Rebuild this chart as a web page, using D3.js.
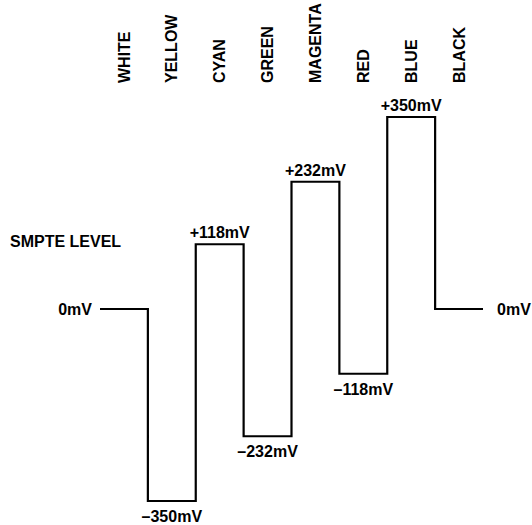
<!DOCTYPE html>
<html>
<head>
<meta charset="utf-8">
<script src="https://cdn.jsdelivr.net/npm/d3@7"></script>
<style>
  body { margin: 0; background: #fff; }
  text { font-family: "Liberation Sans", Arial, Helvetica, sans-serif; font-weight: bold; fill: #000; }
</style>
</head>
<body>
<div class="canva"></div>
<script>
const bars = ["WHITE", "YELLOW", "CYAN", "GREEN", "MAGENTA", "RED", "BLUE", "BLACK"];
const levels = [0, -350, 118, -232, 232, -118, 350, 0];
const levelLabels = ["0mV", "\u2013350mV", "+118mV", "\u2013232mV", "+232mV", "\u2013118mV", "+350mV", "0mV"];

const svg = d3.select(".canva").append("svg")
    .attr("width", 532)
    .attr("height", 525);

const x = d3.scaleBand()
    .domain(bars)
    .range([100, 483]);

const y = d3.scaleLinear()
    .domain([-350, 350])
    .range([501, 117]);

// step waveform
const pts = bars.map((b, i) => [x(b), levels[i]]);
pts.push([x.range()[1], levels[levels.length - 1]]);

const line = d3.line()
    .x(d => d[0])
    .y(d => y(d[1]))
    .curve(d3.curveStepAfter);

svg.append("path")
    .datum(pts)
    .attr("fill", "none")
    .attr("stroke", "#000")
    .attr("stroke-width", 2.2)
    .attr("d", line);

// colour names on top
svg.selectAll(".bar-name")
    .data(bars)
    .enter()
    .append("text")
    .attr("class", "bar-name")
    .attr("transform", d => `translate(${x(d) + x.bandwidth() / 2}, 83) rotate(-90)`)
    .attr("dy", "0.35em")
    .attr("text-anchor", "start")
    .style("font-size", "16px")
    .text(d => d);

// level labels
bars.forEach((b, i) => {
    const v = levels[i];
    const t = svg.append("text")
        .style("font-size", "16px")
        .text(levelLabels[i]);
    if (v === 0) {
        const left = i === 0;
        t.attr("x", left ? x(b) - 8 : x(b) + x.bandwidth() + 14)
            .attr("y", y(v))
            .attr("dy", "0.35em")
            .attr("text-anchor", left ? "end" : "start");
    } else if (v > 0) {
        t.attr("x", x(b) + x.bandwidth() / 2)
            .attr("y", y(v) - 6)
            .attr("text-anchor", "middle");
    } else {
        t.attr("x", x(b) + x.bandwidth() / 2)
            .attr("y", y(v) + 21)
            .attr("text-anchor", "middle");
    }
});

svg.append("text")
    .attr("x", 10)
    .attr("y", 247)
    .style("font-size", "16px")
    .text("SMPTE LEVEL");
</script>
</body>
</html>
